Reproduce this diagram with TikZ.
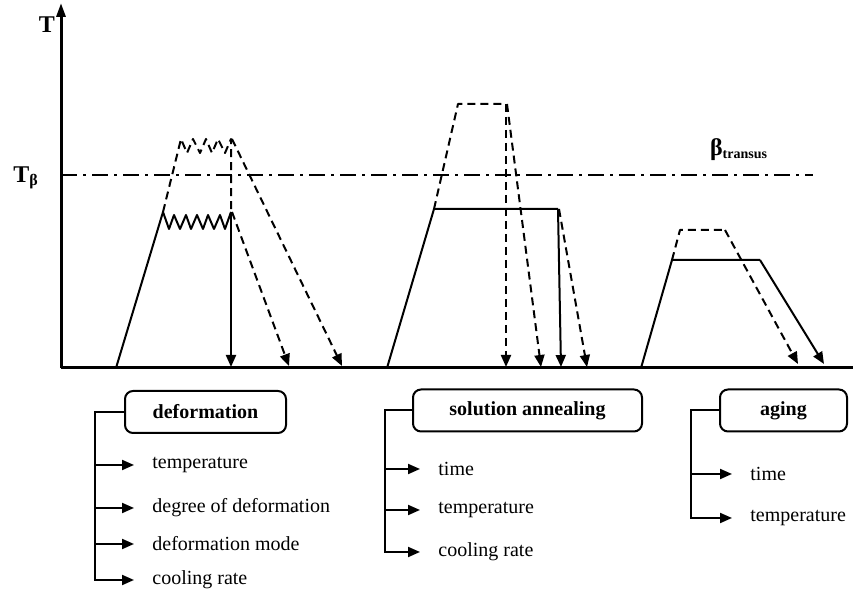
\documentclass[tikz,border=0pt]{standalone}
\usepackage{fontspec}
\setmainfont{Liberation Serif}
\usetikzlibrary{arrows.meta}

\begin{document}
\begin{tikzpicture}[x=0.5pt,y=-0.5pt]

      \tikzset{curve/.style={line width=1pt, line join=round},
               dsh/.style={curve, dash pattern=on 4pt off 2.5pt},
               tip/.style={-{Triangle[length=6pt,width=5pt]}},
               stage/.style={draw, line width=1pt, rounded corners=4pt, minimum height=21pt, font=\bfseries},
               item/.style={anchor=west, inner xsep=9pt}}
      \useasboundingbox (0,0) rectangle (853,597);
% Axes
      	\coordinate (o) at (61,368);
      	\coordinate (ytop) at (61,3);
      	\coordinate (xend) at (853,368);
      	\draw[line width=1.5pt, -{Triangle[length=7pt,width=4.5pt]}] (o) -- (ytop);
      	\draw[line width=1.5pt] (o) -- (xend);
      	\node[font=\bfseries\large] (tl) at (47,25) {T};
      	\node[font=\bfseries\large] (tb) at (26,178) {T\textsubscript{β}};
      	\draw[line width=1pt, dash pattern=on 8pt off 3pt on 1.5pt off 3pt] (61,175) -- (813,175);
      	\node[font=\bfseries] (bt) at (739,150) {{\large β}\textsubscript{transus}};
% Deformation
		\draw[curve] (116,368) -- (163,212) -- (169,229) -- (174,215) -- (180,229) -- (186,215) -- (191,229)
		    -- (197,215) -- (203,229) -- (208,215) -- (214,229) -- (220,215) -- (225,229) -- (231,212);
		\draw[curve, tip] (231,212) -- (231,367);
		\draw[dsh] (163,212) -- (181,139) -- (187,153) -- (193,139) -- (200,153) -- (206,139) -- (212,153)
		    -- (218,139) -- (225,153) -- (231,139) -- (231,212);
		\draw[dsh, tip] (232,139) -- (342,366);
		\draw[dsh, tip] (232,212) -- (289,366);
% Solution annealing
		\draw[curve] (387,368) -- (434,209) -- (558,209);
		\draw[curve, tip] (558,209) -- (561,367);
		\draw[dsh] (434,209) -- (458,104) -- (506,104);
		\draw[dsh, tip] (506,104) -- (506,367);
		\draw[dsh, tip] (507,104) -- (541,367);
		\draw[dsh, tip] (559,209) -- (587,367);
% Aging
		\draw[curve] (641,368) -- (672,260) -- (760,260);
		\draw[curve, tip] (760,260) -- (824,364);
		\draw[dsh] (672,260) -- (680,230) -- (725,230);
		\draw[dsh, tip] (725,230) -- (798,364);
% Parameters
      	\node[stage, minimum width=80.5pt] (def) at (205.5,412) {deformation};
      	\node[stage, minimum width=114.5pt] (sol) at (527.5,410.5) {solution annealing};
      	\node[stage, minimum width=63.5pt] (age) at (783.5,410.5) {aging};

      	\node[item] (d1) at (134,465) {temperature};
      	\node[item] (d2) at (134,508) {degree of deformation};
      	\node[item] (d3) at (134,544) {deformation mode};
      	\node[item] (d4) at (134,580) {cooling rate};
      	\node[item] (s1) at (420,469) {time};
      	\node[item] (s2) at (420,510) {temperature};
      	\node[item] (s3) at (420,552) {cooling rate};
      	\node[item] (a1) at (732,474) {time};
      	\node[item] (a2) at (732,518) {temperature};

		\foreach \i in {d1,d2,d3,d4}
		    \draw[line width=1pt, tip] (def.west) -- ++(-29,0) |- (\i.west);
		\foreach \i in {s1,s2,s3}
		    \draw[line width=1pt, tip] (sol.west) -- ++(-27,0) |- (\i.west);
		\foreach \i in {a1,a2}
		    \draw[line width=1pt, tip] (age.west) -- ++(-28,0) |- (\i.west);

	\end{tikzpicture}
\end{document}
